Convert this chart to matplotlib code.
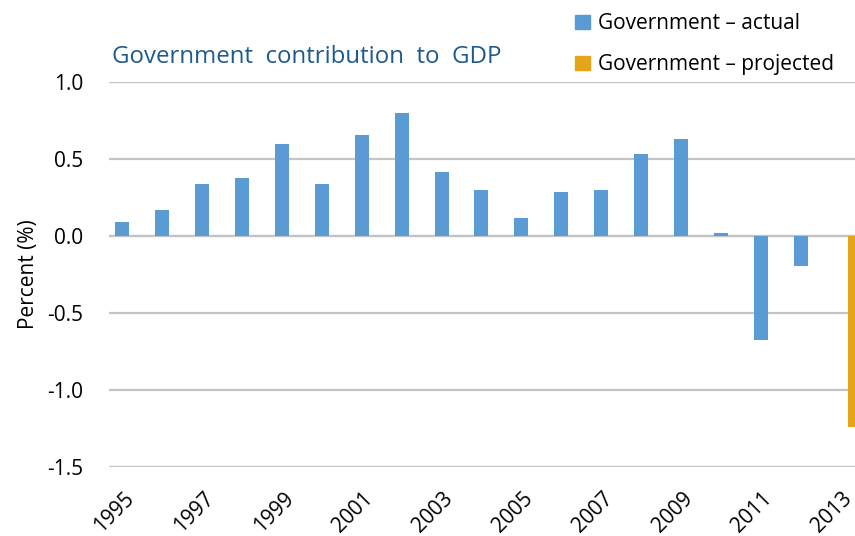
import matplotlib
matplotlib.use("Agg")
import matplotlib.pyplot as plt
from matplotlib.patches import Patch
import numpy as np


years = list(range(1995, 2014))
actual = [0.094, 0.171, 0.337, 0.376, 0.595, 0.337, 0.657, 0.80, 0.414, 0.298,
          0.12, 0.285, 0.298, 0.53, 0.633, 0.02, -0.675, -0.198, np.nan]
projected = [np.nan] * 18 + [-1.24]
yticks = [1.0, 0.5, 0.0, -0.5, -1.0, -1.5]

BLUE = "#5B9BD5"
GOLD = "#E6A519"
TITLE = "#1F5A8C"
GRID = "#C4C4C4"


def main():
    plt.rcParams.update({
        "font.family": ["Open Sans", "DejaVu Sans"],
        "font.size": 15,
    })
    fig = plt.figure(figsize=(8.55, 5.36), dpi=100)
    W, H = 855, 536
    left, right, top, bottom = 109.4, 867.5, 82, 467
    ax = fig.add_axes([left / W, 1 - bottom / H, (right - left) / W, (bottom - top) / H])

    x = np.arange(len(years))
    w = 0.35
    ax.bar(x - w / 2, actual, width=w, color=BLUE, zorder=3)
    ax.bar(x + w / 2, projected, width=w, color=GOLD, zorder=3)

    ax.set_xlim(-0.5, len(years) - 0.5)
    ax.set_ylim(-1.5, 1.0)
    ax.set_yticks(yticks)
    ax.set_yticklabels([f"{v:.1f}" for v in yticks])
    # labels sit a little left of the category centre (tick marks are hidden)
    ax.set_xticks(x[::2] - 0.15)
    ax.set_xticklabels([str(y) for y in years[::2]], rotation=45, ha="right", va="top",
                       rotation_mode="anchor")
    ax.tick_params(axis="both", length=0)
    ax.tick_params(axis="y", pad=19)
    ax.tick_params(axis="x", pad=15)
    ax.grid(axis="y", color=GRID, linewidth=1.6, zorder=0)
    ax.axhline(0, color=GRID, linewidth=1.6, zorder=2)
    for s in ax.spines.values():
        s.set_visible(False)
    ax.set_ylabel("Percent (%)", fontsize=15)
    ax.yaxis.set_label_coords((39 - left) / (right - left), 0.5)

    fig.text(112 / W, 1 - 57 / H, "Government  contribution  to  GDP", color=TITLE,
             fontsize=17.3, ha="left", va="center")

    handles = [Patch(color=BLUE, label="Government – actual"),
               Patch(color=GOLD, label="Government – projected")]
    fig.legend(handles=handles, loc="upper left", bbox_to_anchor=(567 / W, 1 - 5 / H),
               frameon=False, handlelength=0.7, handleheight=0.7, handletextpad=0.4,
               labelspacing=0.95, fontsize=15, borderaxespad=0)

    fig.savefig("out.png", dpi=100)


if __name__ == "__main__":
    main()
